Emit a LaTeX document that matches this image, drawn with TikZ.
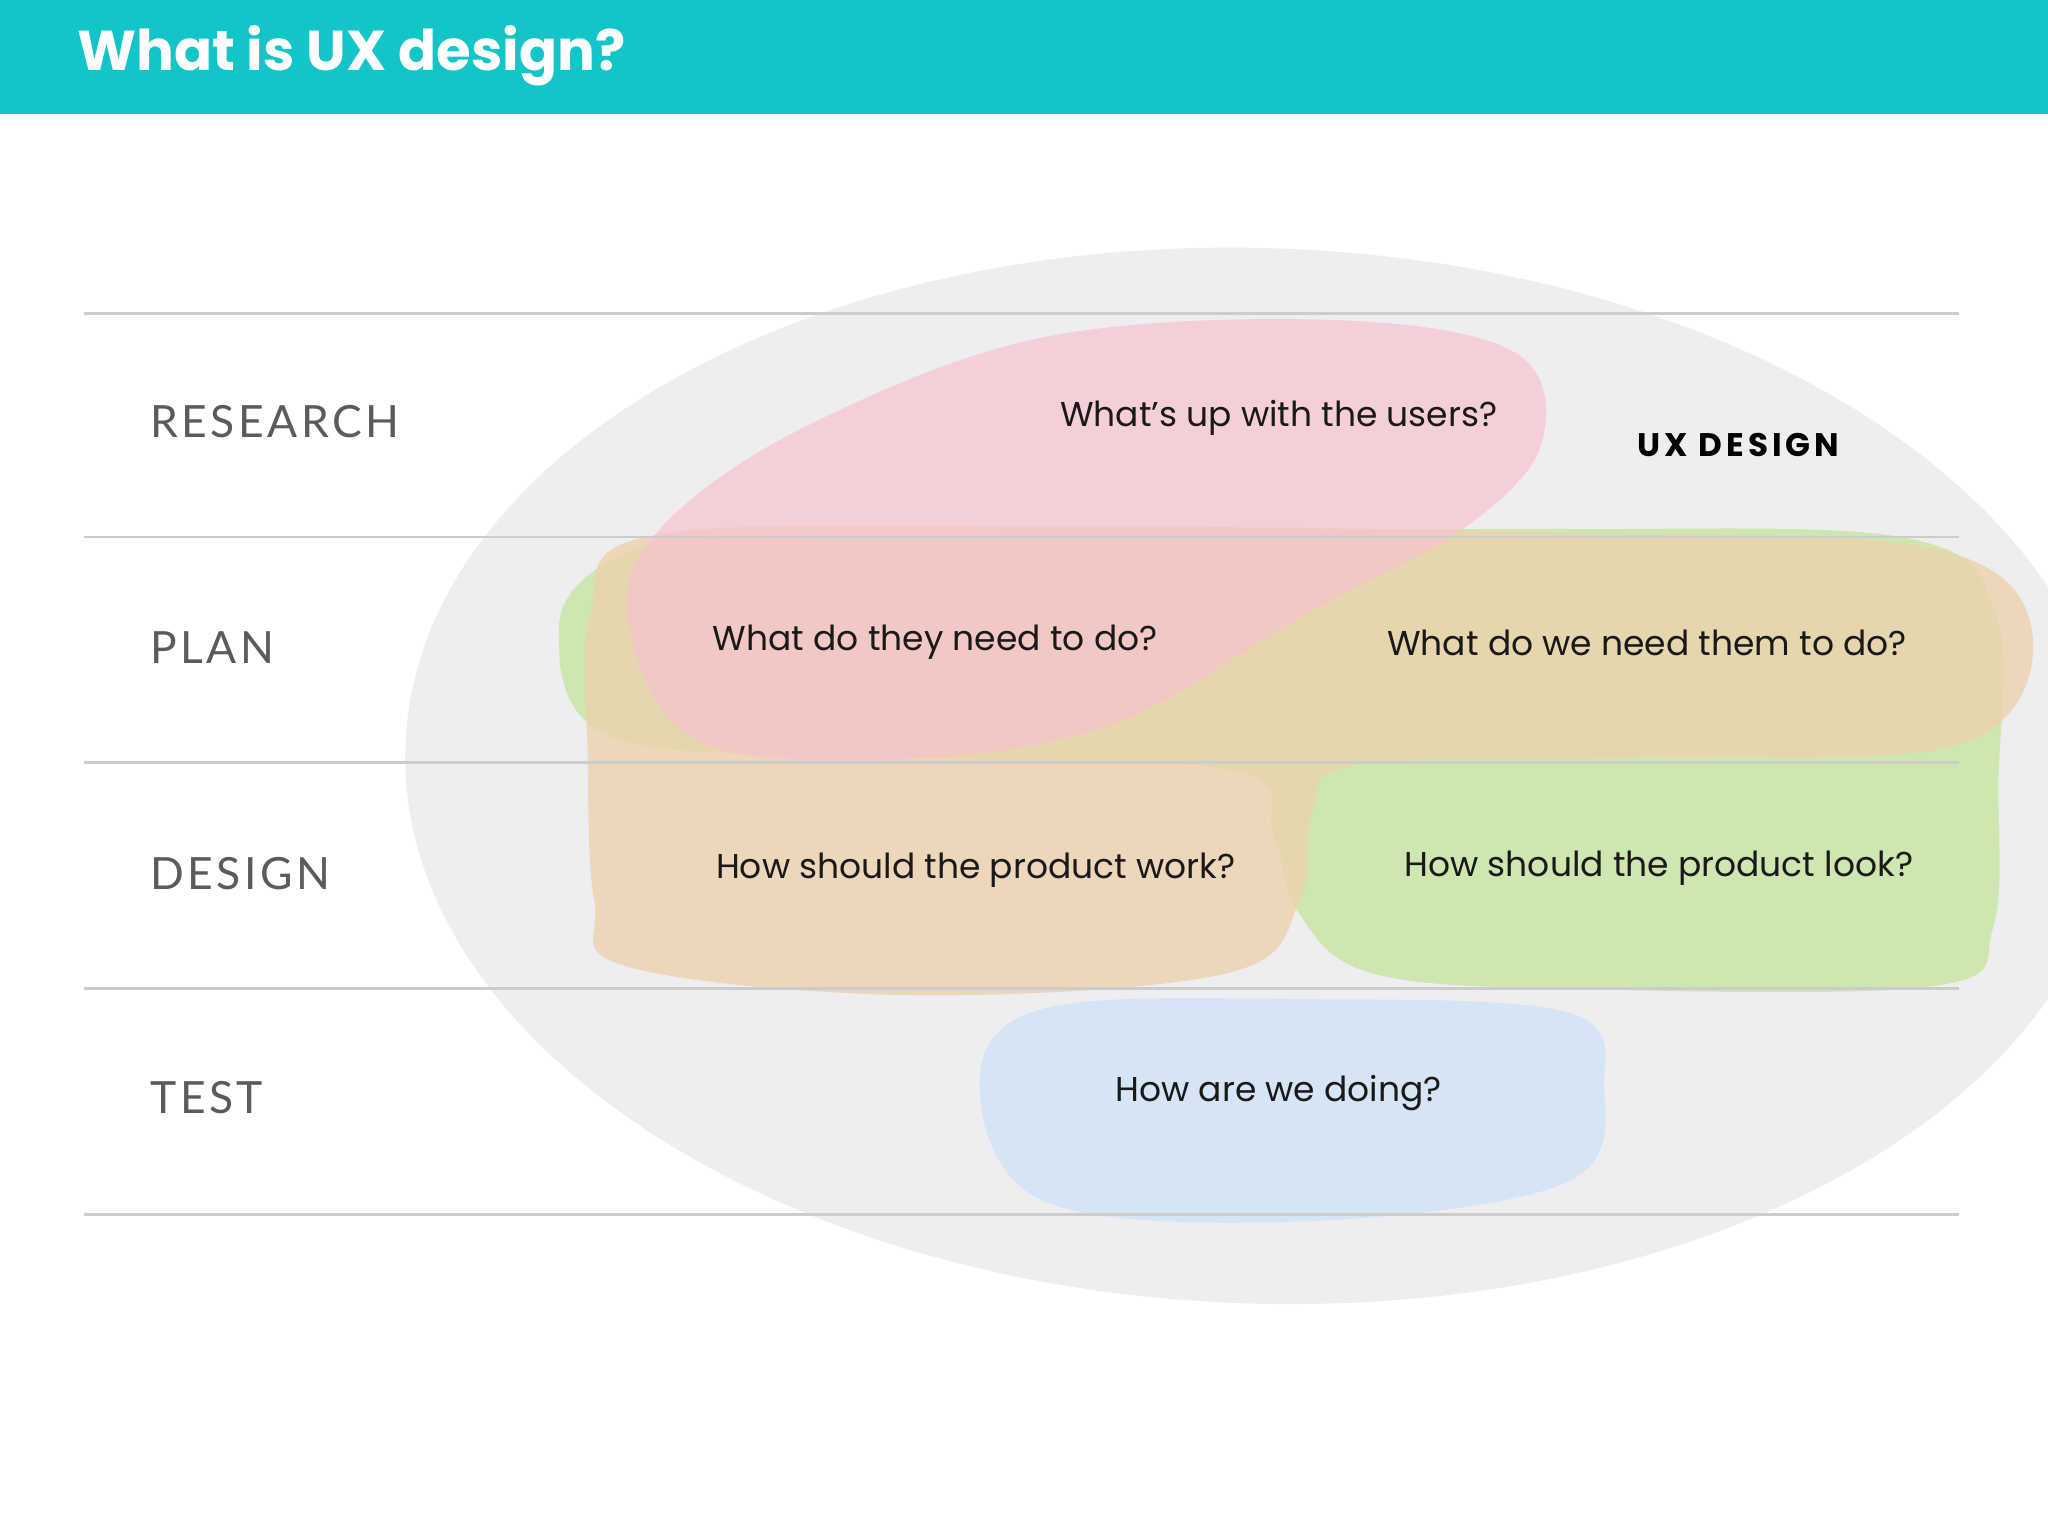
\documentclass[tikz,border=0pt]{standalone}
\usepackage{fontspec}
\setmainfont{Lato}
\newfontfamily\lab[LetterSpace=8]{Lato}
\newfontfamily\uxf[LetterSpace=12]{Poppins}
\newfontfamily\pop{Poppins}
\definecolor{teal}{HTML}{12C5C9}
\definecolor{ellg}{HTML}{EEEDEF}
\definecolor{pinkc}{HTML}{F7C3CE}
\definecolor{orc}{HTML}{EDD2AE}
\definecolor{grc}{HTML}{C9E6A6}
\definecolor{blc}{HTML}{D6E5F6}
\definecolor{labc}{HTML}{5A5A5F}
\begin{document}
\begin{tikzpicture}[x=0.5pt,y=-0.5pt,
  blob/.style={draw=none},
  rule/.style={draw=black!20,line width=1pt},
  lbl/.style={anchor=west,font=\lab\fontsize{17}{20}\selectfont,text=labc},
  q/.style={font=\pop\fontsize{13.2}{16}\selectfont,text=black!90}]
\useasboundingbox (0,0) rectangle (1568,1176);
\fill[teal] (0,0) rectangle (1568,87);
\node[anchor=west,text=white,font=\pop\bfseries\fontsize{21.5}{26}\selectfont] (title) at (52,43) {What is UX design?};
\begin{scope}
\clip (0,88) rectangle (1568,1176);
\fill[ellg,rotate around={-2:(965,594)}] (965,594) ellipse [x radius=655, y radius=404];
\end{scope}
\fill[grc,blob,fill opacity=0.85] plot[smooth cycle,tension=0.6] coordinates {(428,480) (470,428) (560,415) (900,408) (1200,405) (1460,412) (1528,470) (1530,600) (1526,710) (1480,755) (1200,757) (1050,745) (995,700) (975,640) (945,590) (700,580) (470,565)};
\fill[orc,blob,fill opacity=0.8] plot[smooth cycle,tension=0.6] coordinates {(452,470) (500,410) (800,403) (1200,408) (1480,420) (1556,485) (1500,570) (1250,580) (1040,585) (1005,620) (995,690) (940,745) (700,762) (480,740) (455,690) (450,580)};
\fill[pinkc,blob,fill opacity=0.7] plot[smooth cycle,tension=0.6] coordinates {(480,470) (530,565) (680,582) (850,555) (1000,470) (1120,405) (1180,340) (1160,270) (1020,245) (800,258) (620,325) (510,400)};
\fill[blc,blob] plot[smooth cycle,tension=0.6] coordinates {(750,830) (800,772) (1000,765) (1200,775) (1228,830) (1200,905) (1000,935) (800,920)};
\foreach \y/\n in {240/a,411/b,584/c,757/d,930/e}{
  \coordinate (l\n) at (64,\y); \coordinate (r\n) at (1500,\y);
  \draw[rule] (l\n) -- (r\n);}
\node[lbl] (research) at (108,323) {RESEARCH};
\node[lbl] (plan) at (108,496) {PLAN};
\node[lbl] (design) at (108,669) {DESIGN};
\node[lbl] (test) at (108,840) {TEST};
\node[q] (q1) at (979,320) {What’s up with the users?};
\node[q] (q2) at (716,492) {What do they need to do?};
\node[q] (q3) at (1261,492) {What do we need them to do?};
\node[q] (q4) at (747,666) {How should the product work?};
\node[q] (q5) at (1270,665) {How should the product look?};
\node[q] (q6) at (979,837) {How are we doing?};
\node[font=\uxf\bfseries\fontsize{12.5}{15}\selectfont] (ux) at (1331,341) {UX DESIGN};
\end{tikzpicture}
\end{document}
